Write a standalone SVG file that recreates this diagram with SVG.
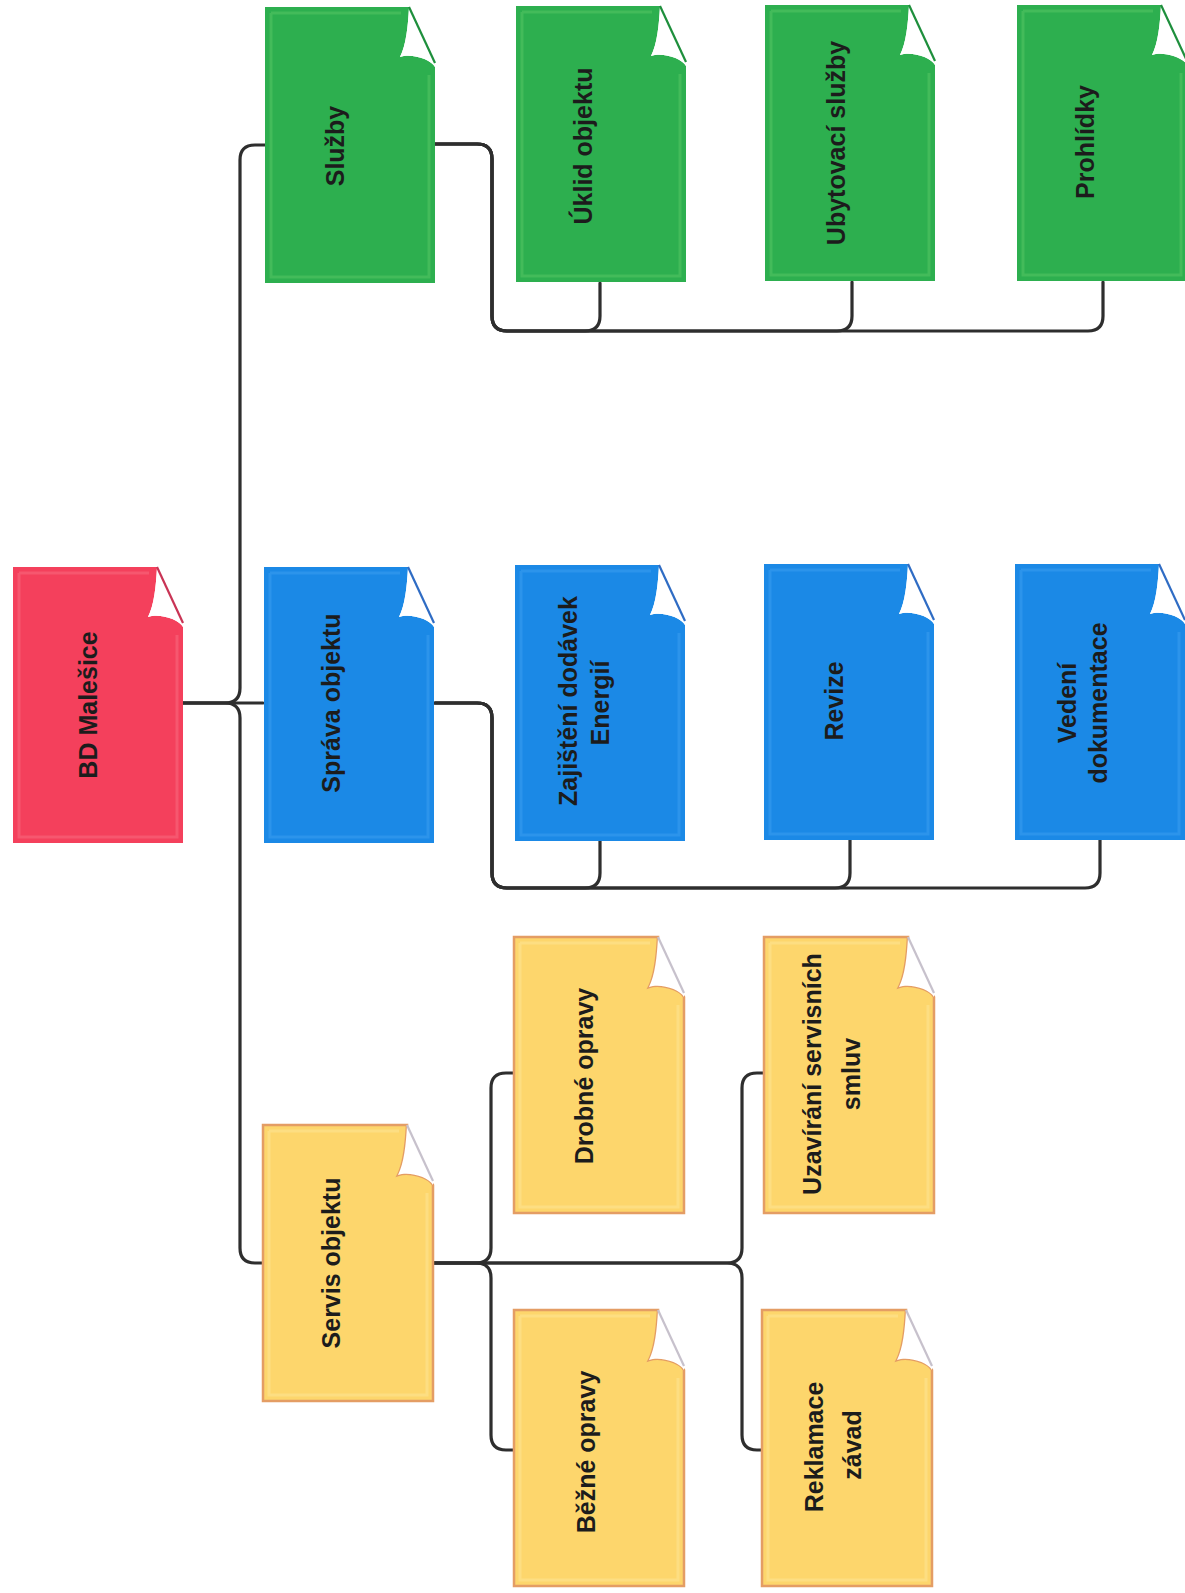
<svg xmlns="http://www.w3.org/2000/svg" xmlns:xlink="http://www.w3.org/1999/xlink" width="1185" height="1593" viewBox="0 0 1185 1593">
  <style>
    text { font-family: "Liberation Sans", Arial, sans-serif; font-size: 25px; font-weight: bold; fill: #1c1c1c; text-anchor: middle; }
    .wire { fill: none; stroke: #2e2e2e; stroke-width: 3.2; stroke-linecap: round; stroke-linejoin: round; }
    .red { fill: #f4405c; color: #c93455; --hi: #f86a80; --edge: none; }
    .green { fill: #2daf4f; color: #1e8f3c; --hi: #55c564; --edge: none; }
    .blue { fill: #1b89e6; color: #2f6cc4; --hi: #3a9cef; --edge: none; }
    .yellow { fill: #fdd66c; color: #c7c1cc; --hi: #fee595; --edge: #e49d64; }
  </style>
  <defs>
    <!-- a sheet of paper with its top-right corner curled over -->
    <g id="sheet">
      <path d="M0,0 H144 C143,20 141,38 135,50 C146,46 166,52 170,60 V276 H0 Z" style="stroke: var(--edge); stroke-width: 2.5"/>
      <path d="M6,6 H136 M164,68 V270 H6 V6" style="fill: none; stroke: var(--hi); stroke-width: 3; stroke-opacity: 0.55"/>
      <path d="M144,0 L170,56 L170,60 C166,52 146,46 135,50 C141,38 143,20 144,0 Z" fill="#ffffff" stroke="none"/>
      <path d="M144,0 L170,56" fill="none" stroke="currentColor" stroke-width="2.2"/>
    </g>
  </defs>

  <rect width="1185" height="1593" fill="#ffffff"/>

  <!-- connectors -->
  <g id="connectors">
    <!-- root to level 1 -->
    <path class="wire" d="M183,703 H225 Q240,703 240,688 V160 Q240,145 255,145 H265"/>
    <path class="wire" d="M183,703 H263"/>
    <path class="wire" d="M183,703 H225 Q240,703 240,718 V1248 Q240,1263 255,1263 H263"/>
    <!-- Služby branch -->
    <path class="wire" d="M435,144 H477 Q492,144 492,159 V316 Q492,331 507,331 H585 Q600,331 600,316 V283"/>
    <path class="wire" d="M435,144 H477 Q492,144 492,159 V316 Q492,331 507,331 H837 Q852,331 852,316 V282"/>
    <path class="wire" d="M435,144 H477 Q492,144 492,159 V316 Q492,331 507,331 H1088 Q1103,331 1103,316 V282"/>
    <!-- Správa objektu branch -->
    <path class="wire" d="M435,703 H477 Q492,703 492,718 V873 Q492,888 507,888 H585 Q600,888 600,873 V840"/>
    <path class="wire" d="M435,703 H477 Q492,703 492,718 V873 Q492,888 507,888 H835 Q850,888 850,873 V838"/>
    <path class="wire" d="M435,703 H477 Q492,703 492,718 V873 Q492,888 507,888 H1085 Q1100,888 1100,873 V838"/>
    <!-- Servis objektu branch -->
    <path class="wire" d="M433,1263 H476 Q491,1263 491,1248 V1088 Q491,1073 506,1073 H515"/>
    <path class="wire" d="M433,1263 H476 Q491,1263 491,1278 V1435 Q491,1450 506,1450 H515"/>
    <path class="wire" d="M433,1263 H727 Q742,1263 742,1248 V1088 Q742,1073 757,1073 H765"/>
    <path class="wire" d="M433,1263 H727 Q742,1263 742,1278 V1435 Q742,1450 757,1450 H765"/>
  </g>

  <!-- root -->
  <g id="bd-malesice" class="red">
    <use xlink:href="#sheet" x="13" y="567"/>
    <text x="97" y="705" transform="rotate(-90 97 705)">BD Malešice</text>
  </g>

  <!-- Služby -->
  <g id="sluzby" class="green">
    <use xlink:href="#sheet" x="265" y="7"/>
    <text x="344" y="146" transform="rotate(-90 344 146)">Služby</text>
  </g>
  <g id="uklid-objektu" class="green">
    <use xlink:href="#sheet" x="516" y="6"/>
    <text x="592" y="146" transform="rotate(-90 592 146)">Úklid objektu</text>
  </g>
  <g id="ubytovaci-sluzby" class="green">
    <use xlink:href="#sheet" x="765" y="5"/>
    <text x="845" y="143" transform="rotate(-90 845 143)">Ubytovací služby</text>
  </g>
  <g id="prohlidky" class="green">
    <use xlink:href="#sheet" x="1017" y="5"/>
    <text x="1094" y="142" transform="rotate(-90 1094 142)">Prohlídky</text>
  </g>

  <!-- Správa objektu -->
  <g id="sprava-objektu" class="blue">
    <use xlink:href="#sheet" x="264" y="567"/>
    <text x="340" y="703" transform="rotate(-90 340 703)">Správa objektu</text>
  </g>
  <g id="zajisteni-dodavek" class="blue">
    <use xlink:href="#sheet" x="515" y="565"/>
    <text x="577" y="701" transform="rotate(-90 577 701)">Zajištění dodávek</text>
    <text x="609" y="703" transform="rotate(-90 609 703)">Energií</text>
  </g>
  <g id="revize" class="blue">
    <use xlink:href="#sheet" x="764" y="564"/>
    <text x="843" y="701" transform="rotate(-90 843 701)">Revize</text>
  </g>
  <g id="vedeni-dokumentace" class="blue">
    <use xlink:href="#sheet" x="1015" y="564"/>
    <text x="1076" y="703" transform="rotate(-90 1076 703)">Vedení</text>
    <text x="1107" y="703" transform="rotate(-90 1107 703)">dokumentace</text>
  </g>

  <!-- Servis objektu -->
  <g id="servis-objektu" class="yellow">
    <use xlink:href="#sheet" x="263" y="1125"/>
    <text x="340" y="1263" transform="rotate(-90 340 1263)">Servis objektu</text>
  </g>
  <g id="drobne-opravy" class="yellow">
    <use xlink:href="#sheet" x="514" y="937"/>
    <text x="593" y="1076" transform="rotate(-90 593 1076)">Drobné opravy</text>
  </g>
  <g id="uzavirani-smluv" class="yellow">
    <use xlink:href="#sheet" x="764" y="937"/>
    <text x="821" y="1074" transform="rotate(-90 821 1074)">Uzavírání servisních</text>
    <text x="860" y="1074" transform="rotate(-90 860 1074)">smluv</text>
  </g>
  <g id="bezne-opravy" class="yellow">
    <use xlink:href="#sheet" x="514" y="1310"/>
    <text x="595" y="1452" transform="rotate(-90 595 1452)">Běžné opravy</text>
  </g>
  <g id="reklamace-zavad" class="yellow">
    <use xlink:href="#sheet" x="762" y="1310"/>
    <text x="823" y="1447" transform="rotate(-90 823 1447)">Reklamace</text>
    <text x="861" y="1445" transform="rotate(-90 861 1445)">závad</text>
  </g>
</svg>
